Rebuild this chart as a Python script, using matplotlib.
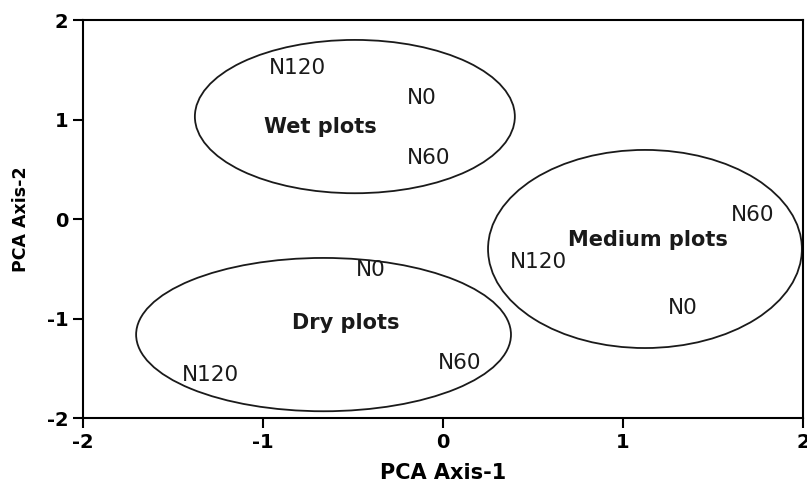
import matplotlib.pyplot as plt
from matplotlib.patches import Ellipse

plt.rcParams['font.family'] = ['DejaVu Sans']
plt.rcParams['axes.unicode_minus'] = False

# treatment labels (label centre, data units)
labels = ['N120', 'N0', 'N60', 'N60', 'N120', 'N0', 'N0', 'N60', 'N120']
label_x = [-0.81, -0.12, -0.08, 1.72, 0.53, 1.33, -0.40, 0.09, -1.29]
label_y = [1.52, 1.22, 0.61, 0.04, -0.43, -0.895, -0.51, -1.447, -1.568]

# groups
groups = ['Wet plots', 'Medium plots', 'Dry plots']
group_x = [-0.68, 1.14, -0.54]
group_y = [0.925, -0.21, -1.045]
ell_cx = [-0.49, 1.122, -0.664]
ell_cy = [1.03, -0.30, -1.16]
ell_w = [1.778, 1.744, 2.083]
ell_h = [1.54, 1.99, 1.54]

fig = plt.figure(figsize=(8.07, 4.88), dpi=100)
ax = fig.add_axes([0.103, 0.143, 0.892, 0.816])

for cx, cy, w, h in zip(ell_cx, ell_cy, ell_w, ell_h):
    ax.add_patch(Ellipse((cx, cy), w, h, fill=False, edgecolor='#1a1a1a', lw=1.3))

for t, x, y in zip(labels, label_x, label_y):
    ax.text(x, y, t, ha='center', va='center', fontsize=15.5, color='#1a1a1a')

for t, x, y in zip(groups, group_x, group_y):
    ax.text(x, y, t, ha='center', va='center', fontsize=15, fontweight='bold', color='#1a1a1a')

ax.set_xlim(-2, 2)
ax.set_ylim(-2, 2)
ax.set_xticks([-2, -1, 0, 1, 2])
ax.set_yticks([-2, -1, 0, 1, 2])
ax.tick_params(direction='out', length=7, width=1.5, labelsize=14)
for lab in ax.get_xticklabels() + ax.get_yticklabels():
    lab.set_fontweight('bold')
for s in ax.spines.values():
    s.set_linewidth(1.5)

ax.set_xlabel('PCA Axis-1', fontsize=15, fontweight='bold', labelpad=8)
ax.set_ylabel('PCA Axis-2', fontsize=12.5, fontweight='bold', labelpad=12)

fig.savefig('out.png', dpi=100)
